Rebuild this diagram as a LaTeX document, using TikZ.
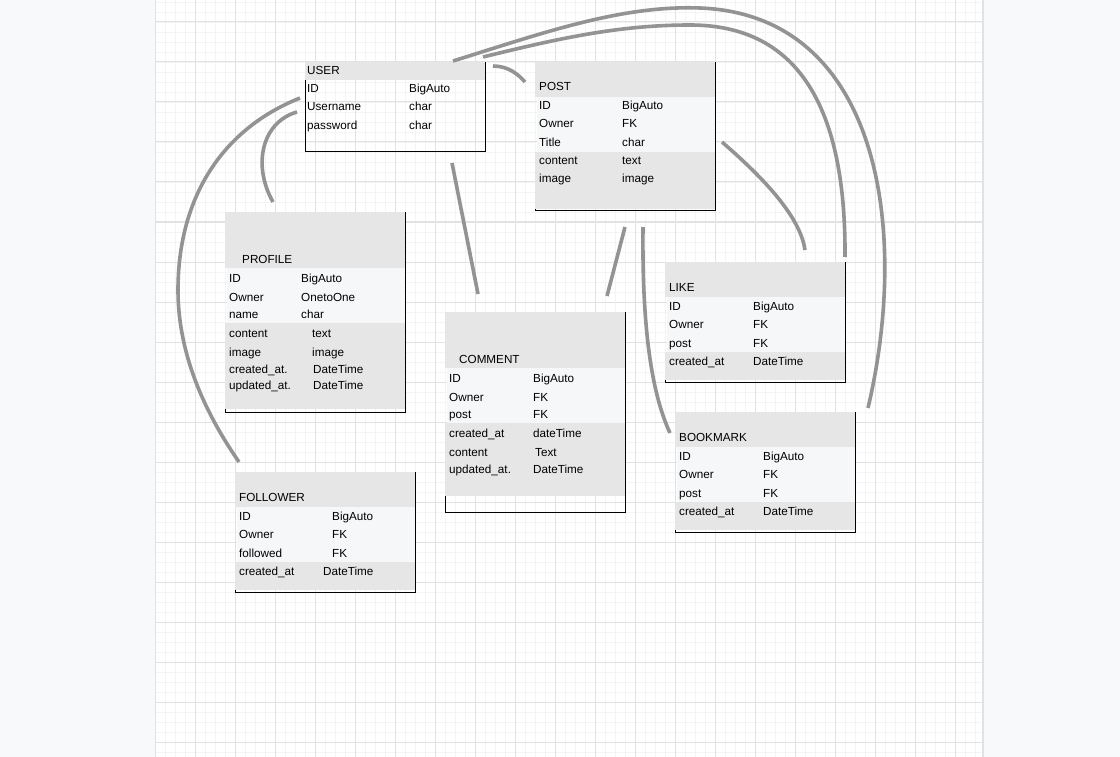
\documentclass[tikz,border=0pt]{standalone}
\usepackage{fontspec}
\setmainfont{Liberation Sans}
\definecolor{outerbg}{HTML}{F8F9FA}
\definecolor{gridminor}{HTML}{F4F4F4}
\definecolor{gridmajor}{HTML}{E2E2E2}
\definecolor{headgrey}{HTML}{E6E6E6}
\definecolor{rowlight}{HTML}{F6F7F9}
\definecolor{linkgrey}{HTML}{939393}
\tikzset{
	fieldtext/.style={
		anchor=base west,
		inner sep=0pt,
		font=\fontsize{11.7}{14}\selectfont
	},
	tableframe/.style={black, line width=1pt},
	link/.style={linkgrey, line width=3.6pt}
}

\begin{document}
\begin{tikzpicture}[x=1pt, y=-1pt]
			\useasboundingbox (0,0) rectangle (1120,757);
			% page and grid
			\fill[outerbg] (0,0) rectangle (1120,757);
			\fill[white] (155,0) rectangle (983,757);
			\draw[gridminor, line width=0.8pt, shift={(155,2)}, step=10pt] (0,755) grid (828,-2);
			\draw[gridmajor, line width=1pt, shift={(155,22)}, step=40pt] (0,735) grid (828,-22);
			\draw[gridmajor, line width=1.2pt] (983,0) -- (983,757);
			
			% USER
			\fill[headgrey] (305,62) rectangle (485,80);
			\draw[tableframe] (305,80) -- (305,152) -- (485,152) -- (485,62);
			\node[fieldtext] (user) at (307,75) {USER};
			\node[fieldtext] (user-id) at (307,93) {\makebox[102pt][l]{ID}BigAuto};
			\node[fieldtext] (user-name) at (307,111) {\makebox[102pt][l]{Username}char};
			\node[fieldtext] (user-pass) at (307,130) {\makebox[102pt][l]{password}char};
			
			% POST
			\fill[headgrey] (535,62) rectangle (715,97);
			\fill[rowlight] (537,97) rectangle (715,152);
			\fill[headgrey] (535,152) rectangle (715,209);
			\draw[tableframe] (535,209) -- (535,211) -- (715,211) -- (715,62);
			\node[fieldtext] (post) at (539,91) {POST};
			\node[fieldtext] (post-id) at (539,110) {\makebox[83pt][l]{ID}BigAuto};
			\node[fieldtext] (post-owner) at (539,128) {\makebox[83pt][l]{Owner}FK};
			\node[fieldtext] (post-title) at (539,147) {\makebox[83pt][l]{Title}char};
			\node[fieldtext] (post-content) at (539,165) {\makebox[83pt][l]{content}text};
			\node[fieldtext] (post-image) at (539,183) {\makebox[83pt][l]{image}image};
			
			% PROFILE
			\fill[headgrey] (225,212) rectangle (405,268);
			\fill[rowlight] (227,268) rectangle (405,323);
			\fill[headgrey] (225,323) rectangle (405,409);
			\draw[tableframe] (225,409) -- (225,412) -- (405,412) -- (405,212);
			\node[fieldtext] (profile) at (242,263) {PROFILE};
			\node[fieldtext] (profile-id) at (229,282) {\makebox[72pt][l]{ID}BigAuto};
			\node[fieldtext] (profile-owner) at (229,301) {\makebox[72pt][l]{Owner}OnetoOne};
			\node[fieldtext] (profile-name) at (229,318) {\makebox[72pt][l]{name}char};
			\node[fieldtext] (profile-content) at (229,337) {\makebox[83pt][l]{content}text};
			\node[fieldtext] (profile-image) at (229,356) {\makebox[83pt][l]{image}image};
			\node[fieldtext] (profile-created) at (229,373) {\makebox[84pt][l]{created\_at.}DateTime};
			\node[fieldtext] (profile-updated) at (229,389) {\makebox[84pt][l]{updated\_at.}DateTime};
			
			% COMMENT
			\fill[headgrey] (445,312) rectangle (625,368);
			\fill[rowlight] (447,368) rectangle (625,423);
			\fill[headgrey] (445,423) rectangle (625,496);
			\draw[tableframe] (445,496) -- (445,512) -- (625,512) -- (625,312);
			\node[fieldtext] (comment) at (459,363) {COMMENT};
			\node[fieldtext] (comment-id) at (449,382) {\makebox[84pt][l]{ID}BigAuto};
			\node[fieldtext] (comment-owner) at (449,401) {\makebox[84pt][l]{Owner}FK};
			\node[fieldtext] (comment-post) at (449,418) {\makebox[84pt][l]{post}FK};
			\node[fieldtext] (comment-created) at (449,437) {\makebox[84pt][l]{created\_at}dateTime};
			\node[fieldtext] (comment-content) at (449,456) {\makebox[86pt][l]{content}Text};
			\node[fieldtext] (comment-updated) at (449,473) {\makebox[84pt][l]{updated\_at.}DateTime};
			
			% LIKE
			\fill[headgrey] (665,262) rectangle (845,297);
			\fill[rowlight] (667,297) rectangle (845,352);
			\fill[headgrey] (665,352) rectangle (845,380);
			\draw[tableframe] (665,380) -- (665,382) -- (845,382) -- (845,262);
			\node[fieldtext] (like) at (669,291) {LIKE};
			\node[fieldtext] (like-id) at (669,310) {\makebox[84pt][l]{ID}BigAuto};
			\node[fieldtext] (like-owner) at (669,328) {\makebox[84pt][l]{Owner}FK};
			\node[fieldtext] (like-post) at (669,347) {\makebox[84pt][l]{post}FK};
			\node[fieldtext] (like-created) at (669,365) {\makebox[84pt][l]{created\_at}DateTime};
			
			% BOOKMARK
			\fill[headgrey] (675,412) rectangle (855,447);
			\fill[rowlight] (677,447) rectangle (855,502);
			\fill[headgrey] (675,502) rectangle (855,530);
			\draw[tableframe] (675,530) -- (675,532) -- (855,532) -- (855,412);
			\node[fieldtext] (bookmark) at (679,441) {BOOKMARK};
			\node[fieldtext] (bookmark-id) at (679,460) {\makebox[84pt][l]{ID}BigAuto};
			\node[fieldtext] (bookmark-owner) at (679,478) {\makebox[84pt][l]{Owner}FK};
			\node[fieldtext] (bookmark-post) at (679,497) {\makebox[84pt][l]{post}FK};
			\node[fieldtext] (bookmark-created) at (679,515) {\makebox[84pt][l]{created\_at}DateTime};
			
			% FOLLOWER
			\fill[headgrey] (235,472) rectangle (415,507);
			\fill[rowlight] (237,507) rectangle (415,562);
			\fill[headgrey] (235,562) rectangle (415,590);
			\draw[tableframe] (235,590) -- (235,592) -- (415,592) -- (415,472);
			\node[fieldtext] (follower) at (239,501) {FOLLOWER};
			\node[fieldtext] (follower-id) at (239,520) {\makebox[93pt][l]{ID}BigAuto};
			\node[fieldtext] (follower-owner) at (239,538) {\makebox[93pt][l]{Owner}FK};
			\node[fieldtext] (follower-followed) at (239,557) {\makebox[93pt][l]{followed}FK};
			\node[fieldtext] (follower-created) at (239,575) {\makebox[84pt][l]{created\_at}DateTime};
			
			% connector ends
			\coordinate (user-top-a) at (453,61);
			\coordinate (user-top-b) at (483,57);
			\coordinate (user-right) at (493,66);
			\coordinate (user-left-a) at (300,98);
			\coordinate (user-left-b) at (297,112);
			\coordinate (user-bottom) at (452,163);
			\coordinate (post-left) at (525,82);
			\coordinate (post-right) at (722,142);
			\coordinate (post-bottom-a) at (625,227);
			\coordinate (post-bottom-b) at (643,227);
			\coordinate (profile-top) at (273,202);
			\coordinate (comment-top-a) at (478,294);
			\coordinate (comment-top-b) at (607,296);
			\coordinate (like-top-a) at (805,250);
			\coordinate (like-top-b) at (845,257);
			\coordinate (bookmark-left) at (670,433);
			\coordinate (bookmark-right) at (868,408);
			\coordinate (follower-top) at (239,462);
			
			% connectors
			\draw[link] (user-top-a) .. controls (540,34) and (620,5) .. (700,8)
				.. controls (880,15) and (910,230) .. (bookmark-right);
			\draw[link] (user-top-b) .. controls (560,38) and (620,25) .. (690,25)
				.. controls (800,25) and (846,110) .. (like-top-b);
			\draw[link] (user-right) .. controls (508,66) and (518,74) .. (post-left);
			\draw[link] (user-left-a) .. controls (220,130) and (178,200) .. (178,290)
				.. controls (178,360) and (210,420) .. (follower-top);
			\draw[link] (user-left-b) .. controls (262,122) and (252,165) .. (profile-top);
			\draw[link] (user-bottom) -- (comment-top-a);
			\draw[link] (post-bottom-a) -- (comment-top-b);
			\draw[link] (post-bottom-b) .. controls (642,320) and (650,390) .. (bookmark-left);
			\draw[link] (post-right) .. controls (760,175) and (800,215) .. (like-top-a);
			
		\end{tikzpicture}
\end{document}
